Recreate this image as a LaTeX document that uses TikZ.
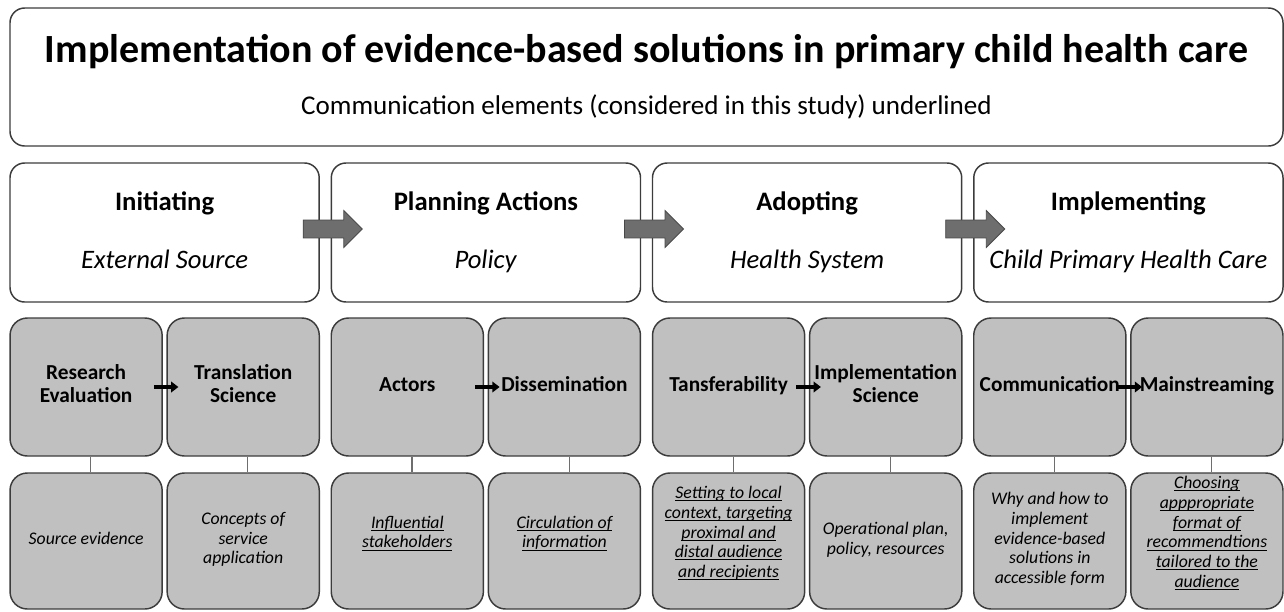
\documentclass[tikz,border=0pt]{standalone}
\usepackage{fontspec}
\setmainfont{Carlito}
\usepackage{xcolor}
\usetikzlibrary{shapes,shapes.arrows,arrows.meta,positioning,calc}
\definecolor{BoxGray}{RGB}{192,192,192}
\definecolor{EdgeGray}{RGB}{60,60,60}
\definecolor{ArrowGray}{RGB}{110,110,110}
\definecolor{LinkGray}{RGB}{110,110,110}
\newcommand{\ulc}[1]{\underline{\smash{#1}}}
\tikzset{
  headbox/.style={draw=EdgeGray,fill=white,rounded corners=11pt,
                  minimum width=954.75pt,minimum height=103.5pt,
                  align=center,line width=1.1pt,
                  font=\fontsize{20.3}{39}\selectfont},
  stagebox/.style={draw=EdgeGray,fill=white,rounded corners=11pt,
                   minimum width=231.9pt,minimum height=104.25pt,
                   align=center,line width=1.1pt,
                   execute at end node=\vphantom{y},
                   font=\fontsize{20}{43.5}\selectfont},
  topbox/.style={draw=EdgeGray,fill=BoxGray,rounded corners=13pt,
                 minimum width=114.1pt,minimum height=103.5pt,
                 align=center,line width=1.1pt,inner sep=2pt,
                 execute at begin node=\strut,execute at end node=\strut,
                 font=\fontsize{16}{17}\selectfont\bfseries},
  botbox/.style={draw=EdgeGray,fill=BoxGray,rounded corners=13pt,
                 minimum width=114.1pt,minimum height=102pt,
                 align=center,line width=1.1pt,inner sep=2pt,
                 execute at begin node=\strut,execute at end node=\strut,
                 font=\fontsize{13.3}{14.85}\selectfont\itshape},
  bigarr/.style={single arrow,draw=ArrowGray!65!black,fill=ArrowGray,
                 minimum height=44.25pt,inner xsep=0pt,inner ysep=6.4pt,
                 single arrow head extend=7.1pt,line width=0.6pt},
  arr/.style={-{Triangle[length=5.5pt,width=8pt]},black,line width=2.8pt},
  link/.style={LinkGray,line width=0.8pt},
}
\begin{document}
\begin{tikzpicture}[x=0.75pt,y=-0.75pt]
    \useasboundingbox (0,0) rectangle (1284,611);
    % Node definitions
    \node[headbox] (head) at (646.5,77) {{\fontsize{30}{39}\selectfont\bfseries Implementation of evidence-based solutions in primary child health care}\\Communication elements (considered in this study) underlined};

    \node[stagebox] (init) at (164.6,232.5) {\textbf{Initiating}\\\textit{External Source}};
    \node[stagebox] (plan) at (485.9,232.5) {\textbf{Planning Actions}\\\textit{Policy}};
    \node[stagebox] (adopt) at (807.1,232.5) {\textbf{Adopting}\\\textit{Health System}};
    \node[stagebox] (impl) at (1128.4,232.5) {\textbf{Implementing}\\\textit{Child Primary Health Care}};

    \node[topbox] (research) at (86.1,387) {Research\\Evaluation};
    \node[topbox] (transl) at (243.2,387) {Translation\\Science};
    \node[topbox] (actors) at (407.3,387) {Actors};
    \node[topbox] (dissem) at (564.4,387) {Dissemination};
    \node[topbox] (transf) at (728.6,387) {Tansferability};
    \node[topbox] (implsci) at (885.7,387) {Implementation\\Science};
    \node[topbox] (commun) at (1049.8,387) {Communication};
    \node[topbox] (mainstr) at (1206.9,387) {Mainstreaming};

    \node[botbox] (source) at (86.1,541) {Source evidence};
    \node[botbox] (concepts) at (243.2,541) {Concepts of\\service\\application};
    \node[botbox] (stake) at (407.3,541) {\ulc{Influential}\\\ulc{stakeholders}};
    \node[botbox] (circ) at (564.4,541) {\ulc{Circulation of}\\\ulc{information}};
    \node[botbox] (setting) at (728.6,541) {\ulc{Setting to local}\\\ulc{context, targeting}\\\ulc{proximal and}\\\ulc{distal audience}\\\ulc{and recipients}};
    \node[botbox] (oper) at (885.7,541) {Operational plan,\\policy, resources};
    \node[botbox] (why) at (1049.8,541) {Why and how to\\implement\\evidence-based\\solutions in\\accessible form};
    \node[botbox] (choose) at (1206.9,541) {\ulc{Choosing}\\\ulc{apppropriate}\\\ulc{format of}\\\ulc{recommendtions}\\\ulc{tailored to the}\\\ulc{audience}};

    % Stage arrows
    \node[bigarr] (step1) at ($(init.east)!0.5!(plan.west)+(3,-3.5)$) {};
    \node[bigarr] (step2) at ($(plan.east)!0.5!(adopt.west)+(3,-3.5)$) {};
    \node[bigarr] (step3) at ($(adopt.east)!0.5!(impl.west)+(3,-3.5)$) {};

    % Edges
    \draw[arr] ([xshift=-6.75pt]research.east) -- ([xshift=9pt]transl.west);
    \draw[arr] ([xshift=-6.75pt]actors.east) -- ([xshift=9pt]dissem.west);
    \draw[arr] ([xshift=-6.75pt]transf.east) -- ([xshift=9pt]implsci.west);
    \draw[arr] ([xshift=-6.75pt]commun.east) -- ([xshift=9pt]mainstr.west);

    \draw[link] ([xshift=3.5pt]research.south) -- ([xshift=3.5pt]source.north);
    \draw[link] ([xshift=3.5pt]transl.south) -- ([xshift=3.5pt]concepts.north);
    \draw[link] ([xshift=3.5pt]actors.south) -- ([xshift=3.5pt]stake.north);
    \draw[link] ([xshift=3.5pt]dissem.south) -- ([xshift=3.5pt]circ.north);
    \draw[link] ([xshift=3.5pt]transf.south) -- ([xshift=3.5pt]setting.north);
    \draw[link] ([xshift=3.5pt]implsci.south) -- ([xshift=3.5pt]oper.north);
    \draw[link] ([xshift=3.5pt]commun.south) -- ([xshift=3.5pt]why.north);
    \draw[link] ([xshift=3.5pt]mainstr.south) -- ([xshift=3.5pt]choose.north);
\end{tikzpicture}
\end{document}
